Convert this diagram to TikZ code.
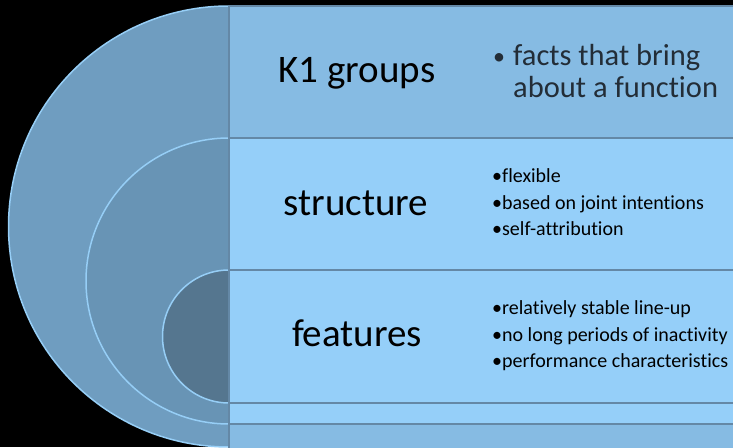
\documentclass[tikz,border=0pt]{standalone}
\usepackage{fontspec}
\setmainfont{Carlito}[Ligatures=CommonOff]
\usetikzlibrary{positioning}

\definecolor{outerfill}{RGB}{111,157,192}
\definecolor{middlefill}{RGB}{104,148,181}
\definecolor{innerfill}{RGB}{85,118,143}
\definecolor{ringline}{RGB}{150,206,246}
\definecolor{darkband}{RGB}{134,187,227}
\definecolor{lightband}{RGB}{149,207,249}
\definecolor{bandline}{RGB}{100,136,166}
\definecolor{topgray}{RGB}{35,45,55}

\begin{document}
\begin{tikzpicture}[x=1pt, y=1pt,
  ring/.style={draw=ringline, line width=1.5pt},
  band/.style={draw=bandline, line width=1.2pt},
  title/.style={inner sep=0pt, anchor=base, font=\fontsize{39}{44}\selectfont},
  items/.style={inner sep=0pt, anchor=base west, font=\fontsize{20}{26.5}\selectfont}]
   \useasboundingbox (0,0) rectangle (733,447);
   \fill[black] (0,0) rectangle (733,447);

   %half discs
   \filldraw[ring, fill=outerfill] (229,441) arc[start angle=90, end angle=270, radius=220.5];
   \filldraw[ring, fill=middlefill] (229,309) arc[start angle=90, end angle=270, radius=143];
   \filldraw[ring, fill=innerfill] (229,177) arc[start angle=90, end angle=270, radius=66.5];

   %bands
   \filldraw[band, fill=darkband] (229,-2) rectangle (745,441);
   \filldraw[band, fill=lightband] (229,23) rectangle (745,309);
   \filldraw[band, fill=lightband] (229,44) rectangle (745,177);

   %titles
   \node[title] (k1) at (357,364) {K1 groups};
   \node[title] (struct) at (356,231) {structure};
   \node[title] (feat) at (357,100) {features};

   %items
   \node[items, text=topgray, font=\fontsize{30.5}{32}\selectfont] (k1facts) at (493,381)
      {\begin{tabular}[t]{@{}l@{}l@{}}\makebox[20pt][l]{\raisebox{1.5pt}{\fontsize{24}{24}\selectfont•}} & facts that bring\\ & about a function\end{tabular}};
   \node[items] (structlist) at (492,264)
      {\begin{tabular}[t]{@{}l@{}}•flexible\\ •based on joint intentions\\ •self-attribution\end{tabular}};
   \node[items] (featlist) at (492,132)
      {\begin{tabular}[t]{@{}l@{}}•relatively stable line-up\\ •no long periods of inactivity\\ •performance characteristics\end{tabular}};
\end{tikzpicture}
\end{document}
